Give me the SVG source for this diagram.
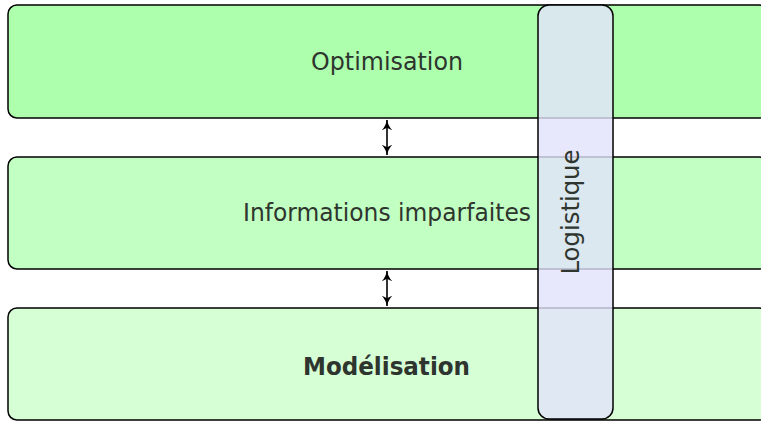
<svg xmlns="http://www.w3.org/2000/svg" width="761" height="421" viewBox="0 0 761 421">
  <style>
    .layer { stroke: #000; stroke-width: 1.5; }
    .label { font-family: "DejaVu Sans", "Liberation Sans", sans-serif; font-size: 24px; fill: #2e352e; text-anchor: middle; }
    .bold { font-weight: bold; }
    .link { stroke: #000; stroke-width: 1.6; fill: none; marker-start: url(#head); marker-end: url(#head); }
  </style>
  <defs>
    <marker id="head" viewBox="0 0 10 10" refX="9.5" refY="5" markerWidth="11" markerHeight="11" markerUnits="userSpaceOnUse" orient="auto-start-reverse">
      <path d="M0,0 Q4,4 10,5 Q4,6 0,10 L2.5,5 Z" fill="#000"/>
    </marker>
  </defs>

  <g id="optimisation">
    <rect class="layer" x="8" y="5" width="760" height="113" rx="9" fill="#adffad"/>
    <text class="label" x="387" y="70" textLength="152" lengthAdjust="spacingAndGlyphs">Optimisation</text>
  </g>

  <g id="informations">
    <rect class="layer" x="8" y="157" width="760" height="112" rx="9" fill="#c2ffc2"/>
    <text class="label" x="387" y="221" textLength="288" lengthAdjust="spacingAndGlyphs">Informations imparfaites</text>
  </g>

  <g id="modelisation">
    <rect class="layer" x="8" y="308" width="760" height="112" rx="9" fill="#d6ffd6"/>
    <text class="label bold" x="386.5" y="375" textLength="167" lengthAdjust="spacingAndGlyphs">Modélisation</text>
  </g>

  <g id="connectors">
    <line class="link" x1="387" y1="120" x2="387" y2="155"/>
    <line class="link" x1="387" y1="271" x2="387" y2="306"/>
  </g>

  <g id="logistique">
    <rect x="538" y="5" width="75" height="414" rx="11" fill="#e2e2fb" fill-opacity="0.8" stroke="#000" stroke-width="1.5"/>
    <text class="label" transform="translate(579,212) rotate(-90)" x="0" y="0" textLength="125" lengthAdjust="spacingAndGlyphs">Logistique</text>
  </g>
</svg>
